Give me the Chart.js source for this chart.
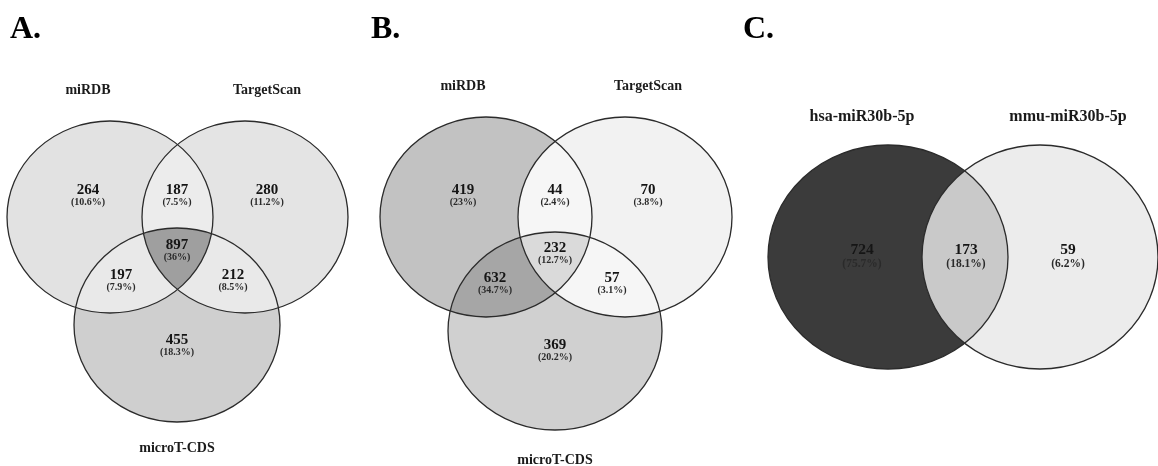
<!DOCTYPE html>
<html>
<head>
<meta charset="utf-8">
<script src="https://cdn.jsdelivr.net/npm/chart.js@4"></script>
<style>
html,body{margin:0;padding:0;background:#fff;}
#wrap{position:relative;width:1158px;height:466px;}
canvas{display:block;}
</style>
</head>
<body>
<div id="wrap"><canvas id="c" width="1158" height="466"></canvas></div>
<script>
// ---------------- DATA ----------------
const panelLetters = ['A.', 'B.', 'C.'];

// Region order for 3-set panels: [only1, only2, only3, 1∩2, 1∩3, 2∩3, 1∩2∩3]
const setsA = ['miRDB', 'TargetScan', 'microT-CDS'];
const countsA = [264, 280, 455, 187, 197, 212, 897];
const percentsA = ['10.6%', '11.2%', '18.3%', '7.5%', '7.9%', '8.5%', '36%'];

const setsB = ['miRDB', 'TargetScan', 'microT-CDS'];
const countsB = [419, 70, 369, 44, 632, 57, 232];
const percentsB = ['23%', '3.8%', '20.2%', '2.4%', '34.7%', '3.1%', '12.7%'];

// Region order for 2-set panel: [only1, only2, 1∩2]
const setsC = ['hsa-miR30b-5p', 'mmu-miR30b-5p'];
const countsC = [724, 59, 173];
const percentsC = ['75.7%', '6.2%', '18.1%'];

// ---------------- LAYOUT / STYLE (scale units) ----------------
const layout = {
  A: {
    letter: {x: 10, y: 38},
    ellipses: [{x:110,y:217,rx:103,ry:96},{x:245,y:217,rx:103,ry:96},{x:177,y:325,rx:103,ry:97}],
    setLabelPos: [{x:88,y:90},{x:267,y:90},{x:177,y:448}],
    regionPos: [{x:88,y:190},{x:267,y:190},{x:177,y:340},{x:177,y:190},{x:121,y:275},{x:233,y:275},{x:177,y:245}],
    fonts: {label: 14, count: 15, pct: 10, pctOffset: 12},
    fills: {single:['#e2e2e2','#e4e4e4','#cfcfcf'], pair:{'01':'#ececec','02':'#e9e9e9','12':'#e9e9e9'}, triple:'#9f9f9f'}
  },
  B: {
    letter: {x: 371, y: 38},
    ellipses: [{x:486,y:217,rx:106,ry:100},{x:625,y:217,rx:107,ry:100},{x:555,y:331,rx:107,ry:99}],
    setLabelPos: [{x:463,y:86},{x:648,y:86},{x:555,y:460}],
    regionPos: [{x:463,y:190},{x:648,y:190},{x:555,y:345},{x:555,y:190},{x:495,y:278},{x:612,y:278},{x:555,y:248}],
    fonts: {label: 14, count: 15, pct: 10, pctOffset: 12},
    fills: {single:['#c2c2c2','#f2f2f2','#d0d0d0'], pair:{'01':'#f6f6f6','02':'#a6a6a6','12':'#f6f6f6'}, triple:'#dadada'}
  },
  C: {
    letter: {x: 743, y: 38},
    ellipses: [{x:888,y:257,rx:120,ry:112},{x:1040,y:257,rx:118,ry:112}],
    setLabelPos: [{x:862,y:117},{x:1068,y:117}],
    regionPos: [{x:862,y:250},{x:1068,y:250},{x:966,y:250}],
    fonts: {label: 16, count: 15.5, pct: 11.5, pctOffset: 14},
    fills: {single:['#3b3b3b','#ececec'], pair:{'01':'#c9c9c9'}}
  }
};
const strokeColor = '#2b2b2b';
const serif = "'Liberation Serif', 'DejaVu Serif', serif";

// ---------------- PLUGIN ----------------
function ellipsePath(ctx, sx, sy, e) {
  const cx = sx.getPixelForValue(e.x), cy = sy.getPixelForValue(e.y);
  const rx = Math.abs(sx.getPixelForValue(e.x + e.rx) - cx);
  const ry = Math.abs(sy.getPixelForValue(e.y + e.ry) - cy);
  ctx.beginPath();
  ctx.ellipse(cx, cy, rx, ry, 0, 0, Math.PI * 2);
}

function drawPanel(ctx, sx, sy, L, sets, counts, percents, letter) {
  const E = L.ellipses;
  E.forEach((e, i) => { ellipsePath(ctx, sx, sy, e); ctx.fillStyle = L.fills.single[i]; ctx.fill(); });
  for (let i = 0; i < E.length; i++) for (let j = i + 1; j < E.length; j++) {
    ctx.save();
    ellipsePath(ctx, sx, sy, E[i]); ctx.clip();
    ellipsePath(ctx, sx, sy, E[j]); ctx.fillStyle = L.fills.pair['' + i + j]; ctx.fill();
    ctx.restore();
  }
  if (E.length === 3) {
    ctx.save();
    ellipsePath(ctx, sx, sy, E[0]); ctx.clip();
    ellipsePath(ctx, sx, sy, E[1]); ctx.clip();
    ellipsePath(ctx, sx, sy, E[2]); ctx.fillStyle = L.fills.triple; ctx.fill();
    ctx.restore();
  }
  E.forEach(e => { ellipsePath(ctx, sx, sy, e); ctx.strokeStyle = strokeColor; ctx.lineWidth = 1.3; ctx.stroke(); });

  const F = L.fonts;
  ctx.fillStyle = '#1a1a1a';
  ctx.textAlign = 'center'; ctx.textBaseline = 'middle';
  ctx.font = 'bold ' + F.label + 'px ' + serif;
  sets.forEach((s, i) => {
    const p = L.setLabelPos[i];
    ctx.fillText(s, sx.getPixelForValue(p.x), sy.getPixelForValue(p.y));
  });
  counts.forEach((c, i) => {
    const p = L.regionPos[i];
    const x = sx.getPixelForValue(p.x), y = sy.getPixelForValue(p.y);
    ctx.fillStyle = '#151515';
    ctx.font = 'bold ' + F.count + 'px ' + serif;
    ctx.fillText(String(c), x, y);
    ctx.fillStyle = '#2a2a2a';
    ctx.font = 'bold ' + F.pct + 'px ' + serif;
    ctx.fillText('(' + percents[i] + ')', x, sy.getPixelForValue(p.y + F.pctOffset));
  });
  ctx.fillStyle = '#000';
  ctx.textAlign = 'left'; ctx.textBaseline = 'alphabetic';
  ctx.font = 'bold 32px ' + serif;
  ctx.fillText(letter, sx.getPixelForValue(L.letter.x), sy.getPixelForValue(L.letter.y));
}

const vennPlugin = {
  id: 'venn',
  afterDatasetsDraw(chart) {
    const ctx = chart.ctx, sx = chart.scales.x, sy = chart.scales.y;
    ctx.save();
    drawPanel(ctx, sx, sy, layout.A, setsA, countsA, percentsA, panelLetters[0]);
    drawPanel(ctx, sx, sy, layout.B, setsB, countsB, percentsB, panelLetters[1]);
    drawPanel(ctx, sx, sy, layout.C, setsC, countsC, percentsC, panelLetters[2]);
    ctx.restore();
  }
};

new Chart(document.getElementById('c'), {
  type: 'scatter',
  data: { datasets: [{ data: [], pointRadius: 0 }] },
  options: {
    responsive: false,
    animation: false,
    layout: { padding: 0 },
    plugins: { legend: { display: false }, tooltip: { enabled: false } },
    scales: {
      x: { type: 'linear', min: 0, max: 1158, display: false },
      y: { type: 'linear', min: 0, max: 466, reverse: true, display: false }
    }
  },
  plugins: [vennPlugin]
});
</script>
</body>
</html>
